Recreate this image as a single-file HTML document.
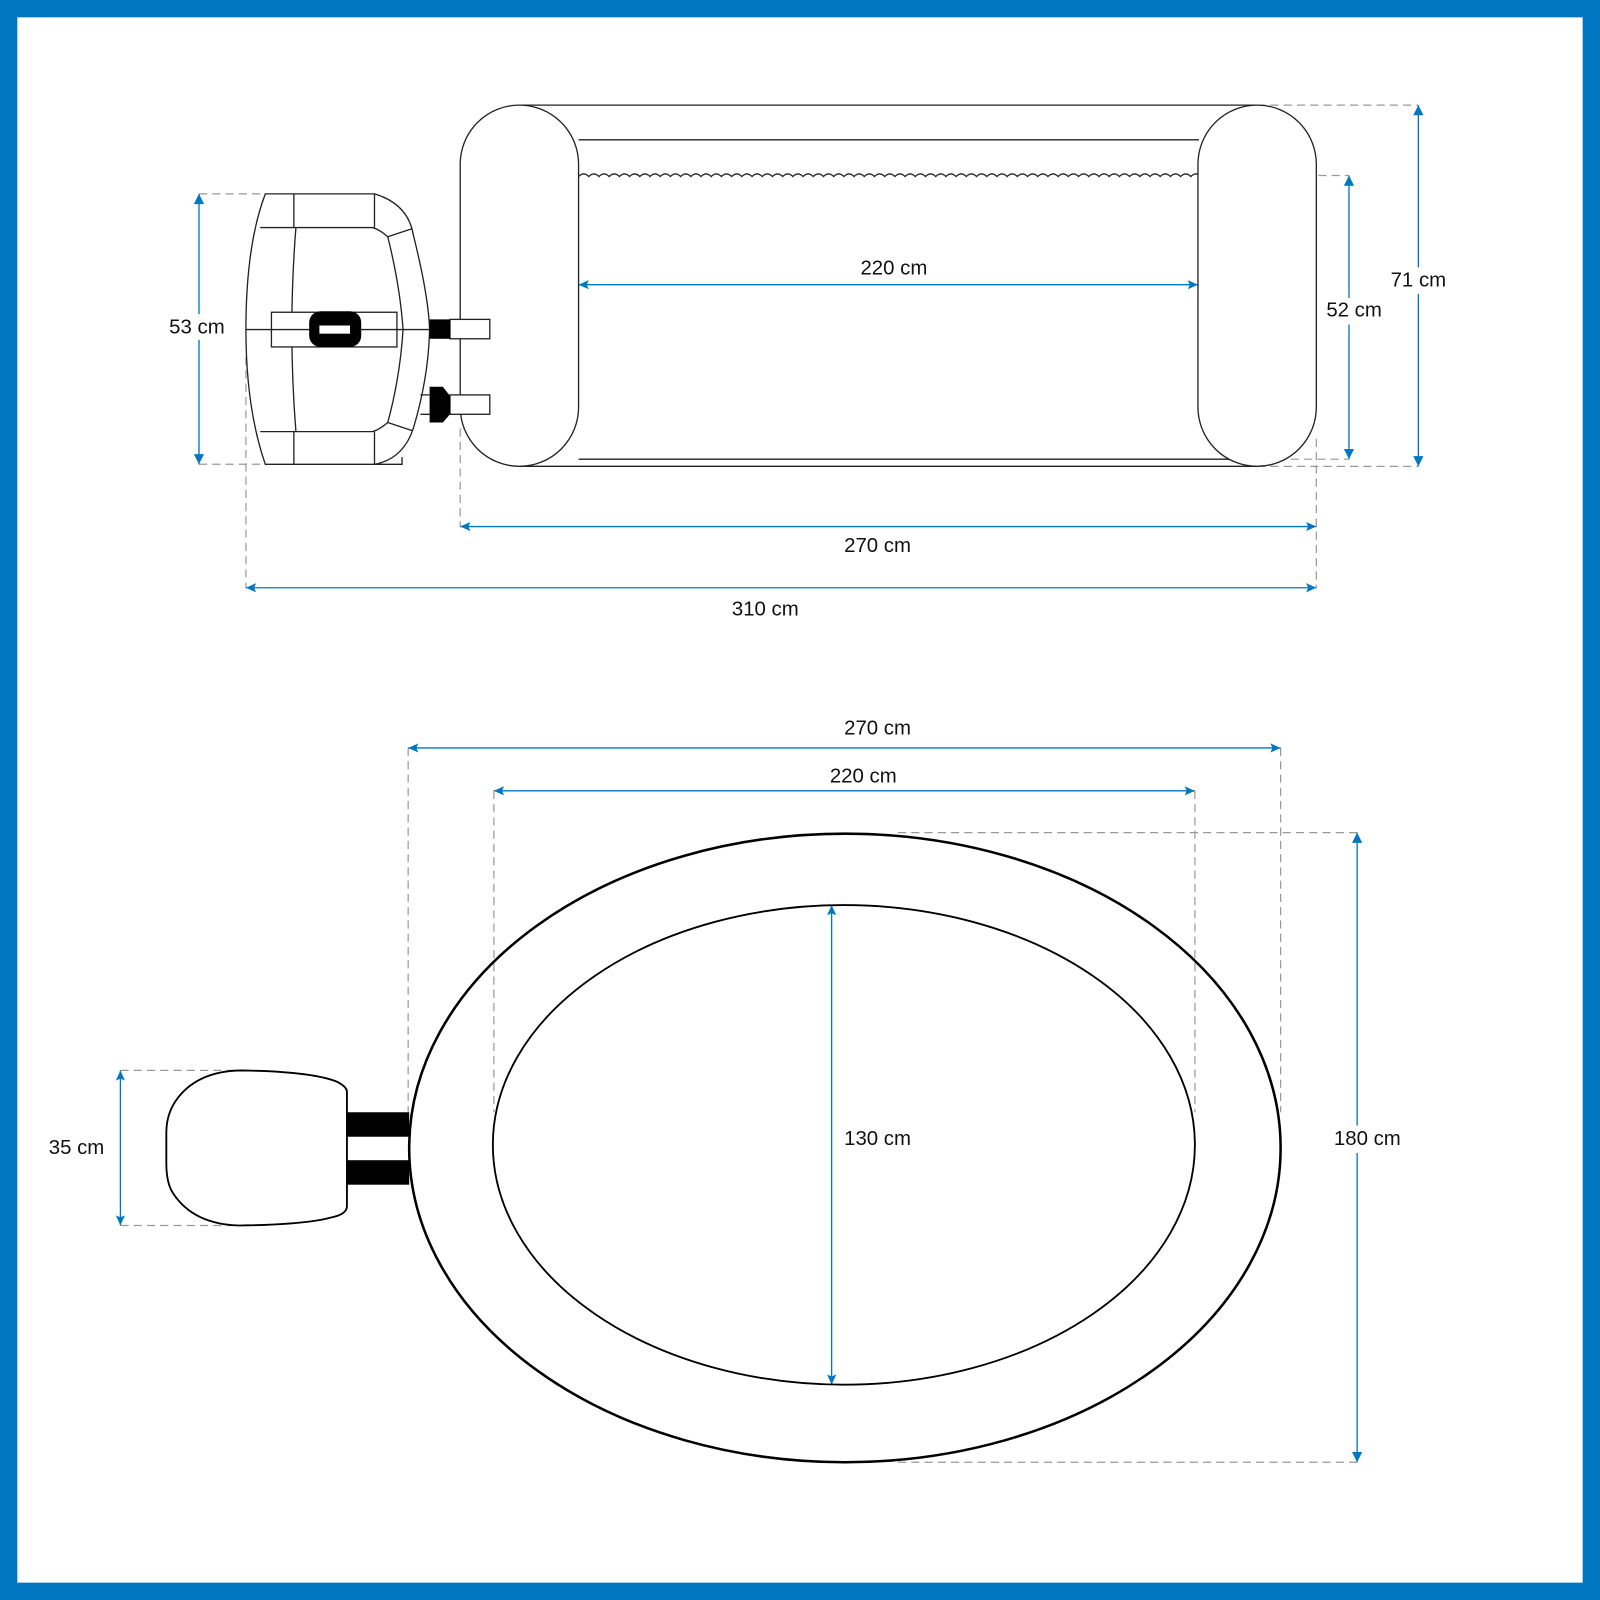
<!DOCTYPE html>
<html><head><meta charset="utf-8"><style>html,body{margin:0;padding:0;background:#fff}svg{display:block}</style></head><body>
<svg width="1600" height="1600" viewBox="0 0 1568 1568" xmlns="http://www.w3.org/2000/svg" font-family="Liberation Sans, sans-serif" font-size="20">
<defs>
<marker id="a" viewBox="0 0 10 10" refX="10" refY="5" markerWidth="10" markerHeight="10" markerUnits="userSpaceOnUse" orient="auto-start-reverse"><path d="M0,0.5 L10,5 L0,9.5 L2,5 Z" fill="#0077c0"/></marker>
</defs>
<rect x="0" y="0" width="1568" height="1568" fill="#0077c0"/>
<rect x="17" y="17" width="1534" height="1534" fill="#fff"/>
<g fill="none" stroke="#999" stroke-width="1.2" stroke-dasharray="8,5">
<path d="M1232 103H1390M1232 457H1390M1175 172H1322M1200 450H1322M451 420V516M1290 430V576M241 350V576M195 190H260M195 455H260"/>
<path d="M400 733V1090M1255 733V1090M484 775V1090M1171 775V1090M880 816H1330M880 1433H1330M118 1049H235M118 1201H235"/>
</g>
<g fill="none" stroke="#0077c0" stroke-width="1.3">
<line x1="567" y1="279" x2="1174" y2="279" marker-start="url(#a)" marker-end="url(#a)"/>
<path d="M1322 172V292M1322 318V450"/>
<path d="M1390 103V262M1390 288V457"/>
<line x1="451" y1="516" x2="1290" y2="516" marker-start="url(#a)" marker-end="url(#a)"/>
<line x1="241" y1="576" x2="1290" y2="576" marker-start="url(#a)" marker-end="url(#a)"/>
<path d="M195 190V308M195 333V455"/>
<line x1="400" y1="733" x2="1255" y2="733" marker-start="url(#a)" marker-end="url(#a)"/>
<line x1="484" y1="775" x2="1171" y2="775" marker-start="url(#a)" marker-end="url(#a)"/>
<path d="M1330 816V1103M1330 1130V1433"/>
<line x1="815" y1="887" x2="815" y2="1357" marker-start="url(#a)" marker-end="url(#a)"/>
<line x1="118" y1="1049" x2="118" y2="1201" marker-start="url(#a)" marker-end="url(#a)"/>
</g>
<g fill="#0077c0">
<path d="M1322 172l-5 10h10zM1322 450l-5 -10h10zM1390 103l-5 10h10zM1390 457l-5 -10h10zM195 190l-5 10h10zM195 455l-5 -10h10zM1330 816l-5 10h10zM1330 1433l-5 -10h10z"/>
</g>
<g fill="none" stroke="#222" stroke-width="1.3">
<path d="M510 103H1232M567 137H1175M510 457H1232M567 450H1232"/>
<path d="M567 173 q5 -5 10 0 q5 -5 10 0 q5 -5 10 0 q5 -5 10 0 q5 -5 10 0 q5 -5 10 0 q5 -5 10 0 q5 -5 10 0 q5 -5 10 0 q5 -5 10 0 q5 -5 10 0 q5 -5 10 0 q5 -5 10 0 q5 -5 10 0 q5 -5 10 0 q5 -5 10 0 q5 -5 10 0 q5 -5 10 0 q5 -5 10 0 q5 -5 10 0 q5 -5 10 0 q5 -5 10 0 q5 -5 10 0 q5 -5 10 0 q5 -5 10 0 q5 -5 10 0 q5 -5 10 0 q5 -5 10 0 q5 -5 10 0 q5 -5 10 0 q5 -5 10 0 q5 -5 10 0 q5 -5 10 0 q5 -5 10 0 q5 -5 10 0 q5 -5 10 0 q5 -5 10 0 q5 -5 10 0 q5 -5 10 0 q5 -5 10 0 q5 -5 10 0 q5 -5 10 0 q5 -5 10 0 q5 -5 10 0 q5 -5 10 0 q5 -5 10 0 q5 -5 10 0 q5 -5 10 0 q5 -5 10 0 q5 -5 10 0 q5 -5 10 0 q5 -5 10 0 q5 -5 10 0 q5 -5 10 0 q5 -5 10 0 q5 -5 10 0 q5 -5 10 0 q5 -5 10 0 q5 -5 10 0 q5 -5 10 0 q5 -5 10 0"/>
<rect x="451" y="103" width="116" height="354" rx="58" fill="#fff"/>
<rect x="1174" y="103" width="116" height="354" rx="58" fill="#fff"/>
<path d="M260 190H367Q400 200 405 230Q420 290 421 323Q420 370 405 420Q395 450 367 455H260Q241 400 241 323Q241 240 260 190Z" fill="#fff"/>
<path d="M367 455H394V448M288 190V223M367 190V223M288 423V455M367 423V455M255 223H365Q372 225 380 232L404 224M255 423H365Q372 421 380 414L404 422"/>
<path d="M290 223Q282 323 290 423M380 232Q392 280 395 323Q392 370 380 414"/>
<rect x="266" y="306" width="123" height="34" fill="#fff"/>
<path d="M241 323H421"/>
<rect x="441" y="313" width="39" height="19" fill="#fff"/>
<rect x="441" y="387" width="39" height="19" fill="#fff"/>
<path d="M412 387H421M412 406H421"/>
<ellipse cx="828" cy="1125" rx="427" ry="308" stroke="#000" stroke-width="2.5"/>
<ellipse cx="827" cy="1122" rx="344" ry="235" stroke="#000" stroke-width="1.8"/>
<path d="M235 1049Q305 1050 330 1060Q340 1065 340 1070V1182Q340 1190 325 1193Q300 1200 235 1201Q190 1200 170 1170Q163 1160 163 1140V1110Q163 1090 175 1075Q195 1050 235 1049Z" stroke="#000" stroke-width="1.8" fill="#fff"/>
</g>
<rect x="303" y="305" width="51" height="35" rx="11" fill="#000"/>
<rect x="313" y="319" width="30" height="8" fill="#fff"/>
<rect x="421" y="313" width="20" height="19" fill="#000"/>
<path d="M421 379H434L441 388V406L434 414H421Z" fill="#000"/>
<rect x="340" y="1090" width="61" height="24" fill="#000"/>
<rect x="340" y="1137" width="61" height="24" fill="#000"/>
<g fill="#111" text-anchor="middle">
<text x="876" y="269">220 cm</text>
<text x="1327" y="310">52 cm</text>
<text x="1390" y="281">71 cm</text>
<text x="860" y="541">270 cm</text>
<text x="750" y="603">310 cm</text>
<text x="193" y="327">53 cm</text>
<text x="860" y="720">270 cm</text>
<text x="846" y="767">220 cm</text>
<text x="1340" y="1122">180 cm</text>
<text x="860" y="1122">130 cm</text>
<text x="75" y="1131">35 cm</text>
</g>
</svg>
</body></html>
